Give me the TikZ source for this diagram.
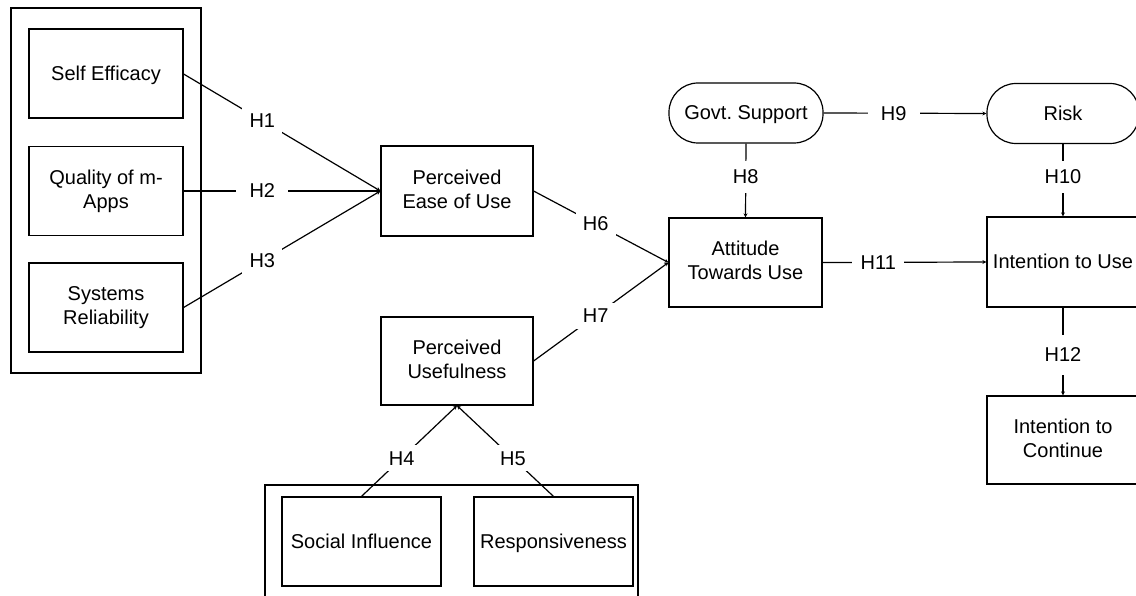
\documentclass[tikz,border=0pt]{standalone}
\usepackage{fontspec}
\setmainfont{Liberation Sans}
\usetikzlibrary{arrows.meta}
\frenchspacing
\newcommand{\topstrut}{\rule{0pt}{18pt}}
\newcommand{\botstrut}{\rule[-4pt]{0pt}{4pt}}
\begin{document}
\begin{tikzpicture}[x=1pt,y=-1pt,
  every node/.style={font=\fontsize{20pt}{24pt}\selectfont},
  box/.style={draw,line width=1.2pt,align=center,inner sep=0pt,minimum width=152pt,minimum height=89pt,
    execute at begin node=\topstrut, execute at end node=\botstrut},
  pill/.style={box,rounded corners=29pt,minimum height=60pt},
  grp/.style={draw,line width=1.2pt},
  conn/.style={line width=1.2pt},
  arr/.style={conn,-{Stealth[length=4pt,width=4pt]}},
  lab/.style={fill=white,inner sep=0pt,minimum width=52pt,minimum height=32pt},
  dlab/.style={fill=white,inner sep=0pt,minimum width=40pt,minimum height=26pt}]
\useasboundingbox (0,0) rectangle (1136,596);
% group frames
\draw[grp] (11,8) rectangle (201,373);
\draw[grp] (265,485) rectangle (638,620);
% nodes
\node[box,minimum width=154pt] (se) at (106,73.5) {Self Efficacy};
\node[box,minimum width=154pt] (qa) at (106,191) {Quality of m-\\Apps};
\node[box,minimum width=154pt] (sr) at (106,307.5) {Systems\\Reliability};
\node[box,minimum height=90pt] (peu) at (457,191) {Perceived\\Ease of Use};
\node[box,minimum height=88pt] (pu) at (457,361) {Perceived\\Usefulness};
\node[box,minimum width=153pt] (atu) at (745.5,262.5) {Attitude\\Towards Use};
\node[pill,minimum width=154pt] (gs) at (746,113) {Govt. Support};
\node[pill] (risk) at (1063,113.5) {Risk};
\node[box,minimum height=90pt] (itu) at (1063,262) {Intention to Use};
\node[box,minimum height=88pt] (itc) at (1063,440) {Intention to\\Continue};
\node[box,minimum width=159pt] (si) at (361.5,541.5) {Social Influence};
\node[box,minimum width=159pt] (re) at (553.5,541.5) {Responsiveness};
% connectors
\draw[arr] (se.east |- 0,74) -- (peu.west) node[dlab,pos=0.40] (h1) {H1};
\draw[arr] (qa.east) -- (peu.west) node[lab,pos=0.40] (h2) {H2};
\draw[arr] (sr.east) -- (peu.west) node[dlab,pos=0.40] (h3) {H3};
\draw[arr] (peu.east) -- (atu.west) node[dlab,pos=0.46] (h6) {H6};
\draw[arr] (pu.east) -- (atu.west) node[dlab,pos=0.46] (h7) {H7};
\draw[arr] (si.north) -- (pu.south) node[dlab,pos=0.42] (h4) {H4};
\draw[arr] (re.north) -- (pu.south) node[dlab,pos=0.42] (h5) {H5};
\draw[arr] (gs.south) -- (atu.north) node[lab,pos=0.45] (h8) {H8};
\draw[arr] (gs.east) -- (risk.west) node[lab,pos=0.43] (h9) {H9};
\draw[arr] (risk.south) -- (itu.north) node[lab,pos=0.45] (h10) {H10};
\draw[arr] (atu.east) -- (itu.west) node[lab,pos=0.34] (h11) {H11};
\draw[arr] (itu.south) -- (itc.north) node[lab,minimum height=40pt,pos=0.54] (h12) {H12};
\end{tikzpicture}
\end{document}
